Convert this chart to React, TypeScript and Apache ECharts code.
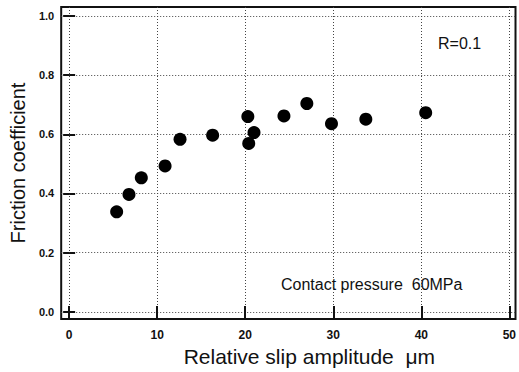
import React, { useEffect, useRef } from "react";
import * as echarts from "echarts";

const slipAmplitude = [5.4, 6.8, 8.2, 10.9, 12.6, 16.3, 20.3, 20.4, 21.0, 24.4, 27.0, 29.8, 33.7, 40.5];
const frictionCoefficient = [0.338, 0.397, 0.453, 0.493, 0.583, 0.597, 0.66, 0.569, 0.606, 0.662, 0.704, 0.636, 0.651, 0.673];
const xTicks = [0, 10, 20, 30, 40, 50];
const yTicks = [0, 0.2, 0.4, 0.6, 0.8, 1.0];

export default function App() {
  const ref = useRef<HTMLDivElement>(null);
  useEffect(() => {
    if (!ref.current) return;
    document.body.style.margin = "0";
    const chart = echarts.init(ref.current, null, { renderer: "svg" });
    const font = "'Liberation Sans', Arial, Helvetica, sans-serif";
    const gridLine = { show: true, lineStyle: { color: "#444", type: [1, 2] as any, width: 1 } };
    chart.setOption({
      animation: false,
      backgroundColor: "#fff",
      grid: { left: 60, top: 7, width: 456, height: 312, show: true, borderColor: "#111", borderWidth: 2, backgroundColor: "transparent" },
      xAxis: [
        {
          type: "value",
          min: -0.9,
          max: 50.7,
          position: "bottom",
          axisLine: { show: false },
          axisTick: { show: true, inside: true, length: 6, customValues: xTicks, lineStyle: { color: "#111", width: 2 } },
          axisLabel: { customValues: xTicks, color: "#111", fontFamily: font, fontSize: 12, fontWeight: "bold", margin: 10 },
          splitLine: gridLine,
          name: "Relative slip amplitude  μm",
          nameLocation: "middle",
          nameGap: 27,
          nameTextStyle: { color: "#111", fontFamily: font, fontSize: 21, padding: [0, 0, 0, 42] },
        },
        {
          type: "value",
          min: -0.9,
          max: 50.7,
          position: "top",
          axisLine: { show: false },
          axisTick: { show: true, inside: true, length: 6, customValues: xTicks, lineStyle: { color: "#111", width: 2 } },
          axisLabel: { show: false },
          splitLine: { show: false },
        },
      ],
      yAxis: [
        {
          type: "value",
          min: -0.024,
          max: 1.03,
          position: "left",
          axisLine: { show: false },
          axisTick: { show: true, inside: true, length: 6, customValues: yTicks, lineStyle: { color: "#111", width: 2 } },
          axisLabel: { customValues: yTicks, color: "#111", fontFamily: font, fontSize: 11, fontWeight: "bold", margin: 7, formatter: (v: number) => v.toFixed(1) },
          splitLine: gridLine,
          name: "Friction coefficient",
          nameLocation: "middle",
          nameGap: 31,
          nameTextStyle: { color: "#111", fontFamily: font, fontSize: 20 },
        },
        {
          type: "value",
          min: -0.024,
          max: 1.03,
          position: "right",
          axisLine: { show: false },
          axisTick: { show: true, inside: true, length: 6, customValues: yTicks, lineStyle: { color: "#111", width: 2 } },
          axisLabel: { show: false },
          splitLine: { show: false },
        },
      ],
      graphic: [
        { type: "text", left: 438, top: 35, style: { text: "R=0.1", fill: "#111", font: `16px ${font}` } },
        { type: "text", left: 281, top: 276, style: { text: "Contact pressure  60MPa", fill: "#111", font: `16px ${font}` } },
      ],
      series: [
        {
          type: "scatter",
          symbol: "circle",
          symbolSize: 13,
          itemStyle: { color: "#000", opacity: 1 },
          data: slipAmplitude.map((x, i) => [x, frictionCoefficient[i]]),
        },
      ],
    });
    return () => chart.dispose();
  }, []);
  return <div ref={ref} style={{ width: 519, height: 372 }} />;
}
